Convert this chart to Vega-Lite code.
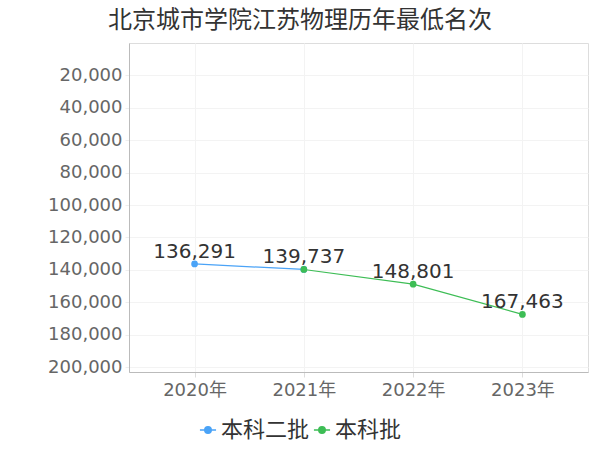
{
  "$schema": "https://vega.github.io/schema/vega-lite/v6.json",
  "autosize": "none",
  "width": 459,
  "height": 329,
  "padding": {"left": 129, "top": 43, "right": 12, "bottom": 78},
  "title": {
    "text": "北京城市学院江苏物理历年最低名次",
    "anchor": "start",
    "frame": "group",
    "dx": -21,
    "offset": 10,
    "fontSize": 24,
    "fontWeight": "normal",
    "font": "Noto Sans CJK SC",
    "color": "#333333"
  },
  "data": {
    "values": [
      {"year": "2020年", "batch": "本科二批", "rank": 136291, "label": true},
      {"year": "2021年", "batch": "本科二批", "rank": 139737, "label": false},
      {"year": "2021年", "batch": "本科批", "rank": 139737, "label": true},
      {"year": "2022年", "batch": "本科批", "rank": 148801, "label": true},
      {"year": "2023年", "batch": "本科批", "rank": 167463, "label": true}
    ]
  },
  "encoding": {
    "x": {
      "field": "year",
      "type": "ordinal",
      "scale": {"type": "point", "padding": 0.6},
      "axis": {
        "title": null,
        "labelAngle": 0,
        "labelFontSize": 18,
        "labelColor": "#666666",
        "labelFont": "DejaVu Sans, Noto Sans CJK SC",
        "labelPadding": 4,
        "domainColor": "#bbbbbb",
        "tickColor": "#dddddd",
        "tickSize": 5,
        "grid": true,
        "gridColor": "#f3f3f3"
      }
    },
    "y": {
      "field": "rank",
      "type": "quantitative",
      "scale": {"domain": [0, 203000], "reverse": true, "nice": false, "zero": false},
      "axis": {
        "title": null,
        "values": [20000, 40000, 60000, 80000, 100000, 120000, 140000, 160000, 180000, 200000],
        "format": ",d",
        "labelFontSize": 18,
        "labelColor": "#666666",
        "labelFont": "DejaVu Sans",
        "labelPadding": 3,
        "domainColor": "#bbbbbb",
        "tickColor": "#eeeeee",
        "tickSize": 4,
        "grid": true,
        "gridColor": "#f3f3f3"
      }
    },
    "color": {
      "field": "batch",
      "type": "nominal",
      "scale": {"domain": ["本科二批", "本科批"], "range": ["#4aa3f7", "#3dbd55"]},
      "legend": {
        "title": null,
        "orient": "none",
        "direction": "horizontal",
        "legendX": 68,
        "legendY": 376,
        "labelFontSize": 22,
        "labelFont": "Noto Sans CJK SC",
        "labelColor": "#333333",
        "symbolType": "M-1,0H-0.4M0.4,0H1M-0.4,0A0.4,0.4 0 1 1 0.4,0A0.4,0.4 0 1 1 -0.4,0",
        "symbolSize": 260,
        "symbolStrokeWidth": 1.5,
        "labelOffset": 2,
        "columnPadding": 0
      }
    }
  },
  "layer": [
    {"mark": {"type": "line", "strokeWidth": 1.2}},
    {"mark": {"type": "circle", "size": 45, "opacity": 1}},
    {
      "transform": [{"filter": "datum.label"}],
      "mark": {
        "type": "text",
        "baseline": "bottom",
        "dy": -2,
        "fontSize": 20,
        "font": "DejaVu Sans",
        "color": "#333333"
      },
      "encoding": {
        "text": {"field": "rank", "type": "quantitative", "format": ",d"},
        "color": {"value": "#333333"}
      }
    }
  ]
}
